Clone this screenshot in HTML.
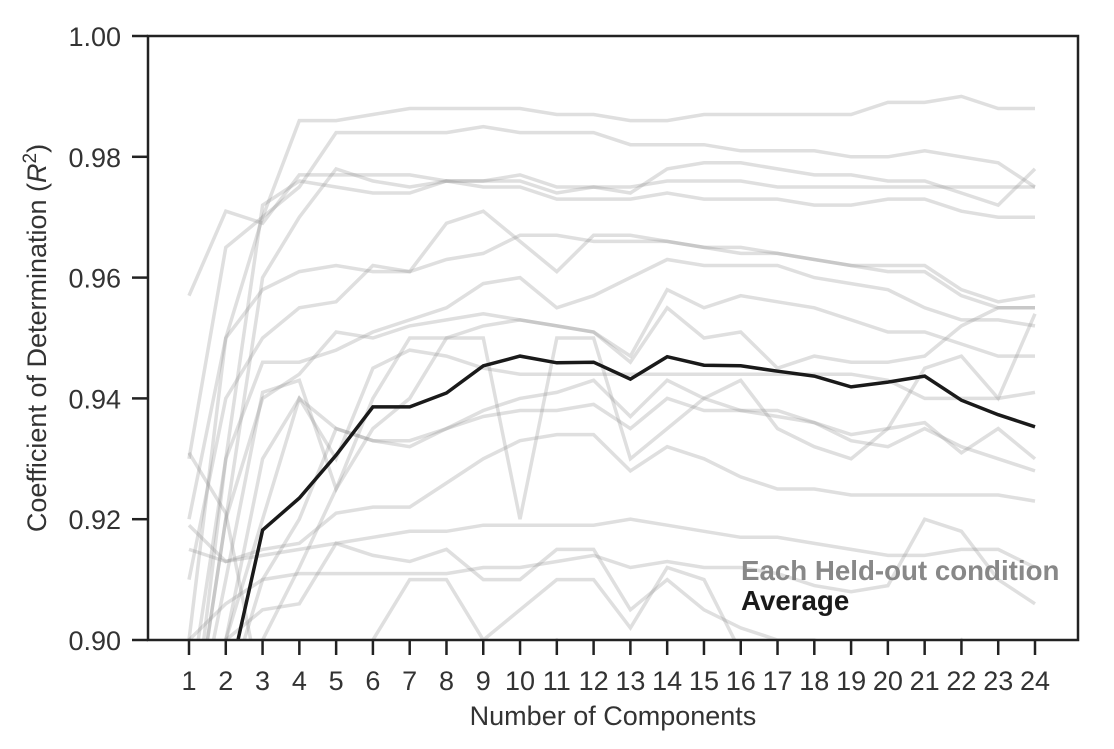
<!DOCTYPE html>
<html><head><meta charset="utf-8"><style>
html,body{margin:0;padding:0;background:#fff;overflow:hidden;width:1114px;height:749px;}
svg{display:block;}
svg text{font-family:"Liberation Sans",Arial,sans-serif;}
</style></head><body>
<svg id="chart" width="1114" height="749" xmlns="http://www.w3.org/2000/svg">
<defs><clipPath id="clip"><rect x="148" y="36" width="930" height="604"/></clipPath></defs>
<g id="grays" clip-path="url(#clip)"></g>
<g id="avg" clip-path="url(#clip)"></g>
<rect x="148" y="36" width="930" height="604" fill="none" stroke="#222" stroke-width="2.5"/>
<g id="yticks"></g>
<g id="xticks"></g>
<text x="613" y="725" font-size="27" fill="#333" text-anchor="middle">Number of Components</text>
<text transform="translate(46,338) rotate(-90)" font-size="27" fill="#333" text-anchor="middle">Coefficient of Determination (<tspan font-style="italic">R</tspan><tspan dy="-10" font-size="19">2</tspan><tspan dy="10">)</tspan></text>
<text x="741" y="580" font-size="27.7" font-weight="bold" fill="#888">Each Held-out condition</text>
<text x="741" y="610" font-size="27.7" font-weight="bold" fill="#1a1a1a">Average</text>
</svg>
<script>
const components = [1,2,3,4,5,6,7,8,9,10,11,12,13,14,15,16,17,18,19,20,21,22,23,24];
const yTicks = [0.90,0.92,0.94,0.96,0.98,1.00];
const yTickLabels = ["0.90","0.92","0.94","0.96","0.98","1.00"];
const averageR2 = [0.882,0.891,0.9182,0.9235,0.9306,0.9386,0.9386,0.9409,0.9454,0.9470,0.9459,0.9460,0.9432,0.9469,0.9455,0.9454,0.9445,0.9437,0.9419,0.9427,0.9437,0.9397,0.9373,0.9353];
const heldOut = [
[0.93,0.965,0.97,0.986,0.986,0.987,0.988,0.988,0.988,0.988,0.987,0.987,0.986,0.986,0.987,0.987,0.987,0.987,0.987,0.989,0.989,0.99,0.988,0.988],
[0.90,0.95,0.97,0.975,0.984,0.984,0.984,0.984,0.985,0.984,0.984,0.984,0.982,0.982,0.982,0.981,0.981,0.981,0.980,0.980,0.981,0.980,0.979,0.975],
[0.957,0.971,0.969,0.977,0.977,0.977,0.977,0.976,0.976,0.977,0.975,0.975,0.975,0.976,0.976,0.976,0.975,0.975,0.975,0.975,0.975,0.975,0.975,0.975],
[0.88,0.93,0.972,0.976,0.975,0.974,0.974,0.976,0.976,0.976,0.974,0.975,0.974,0.978,0.979,0.979,0.978,0.977,0.977,0.976,0.976,0.974,0.972,0.978],
[0.88,0.92,0.96,0.97,0.978,0.976,0.975,0.976,0.975,0.975,0.973,0.973,0.973,0.974,0.973,0.973,0.973,0.972,0.972,0.973,0.973,0.971,0.97,0.97],
[0.92,0.95,0.958,0.961,0.962,0.961,0.961,0.963,0.964,0.967,0.967,0.966,0.966,0.966,0.965,0.965,0.964,0.963,0.962,0.962,0.962,0.958,0.956,0.957],
[0.91,0.94,0.95,0.955,0.956,0.962,0.961,0.969,0.971,0.966,0.961,0.967,0.967,0.966,0.965,0.964,0.964,0.963,0.962,0.961,0.961,0.957,0.955,0.955],
[0.89,0.93,0.946,0.946,0.948,0.951,0.953,0.955,0.959,0.96,0.955,0.957,0.96,0.963,0.962,0.962,0.962,0.96,0.959,0.958,0.955,0.953,0.953,0.952],
[0.88,0.92,0.94,0.944,0.951,0.95,0.952,0.953,0.954,0.953,0.952,0.951,0.947,0.958,0.955,0.957,0.956,0.955,0.953,0.951,0.951,0.949,0.947,0.947],
[0.88,0.91,0.941,0.943,0.925,0.935,0.94,0.95,0.952,0.953,0.952,0.951,0.946,0.955,0.95,0.951,0.945,0.947,0.946,0.946,0.947,0.952,0.955,0.955],
[0.89,0.90,0.93,0.94,0.93,0.945,0.948,0.947,0.945,0.944,0.944,0.944,0.944,0.944,0.944,0.944,0.944,0.944,0.944,0.943,0.94,0.94,0.94,0.941],
[0.88,0.9,0.92,0.94,0.935,0.933,0.933,0.935,0.938,0.94,0.941,0.943,0.937,0.943,0.94,0.938,0.938,0.936,0.933,0.932,0.935,0.932,0.93,0.928],
[0.88,0.89,0.91,0.92,0.935,0.933,0.932,0.935,0.937,0.938,0.938,0.939,0.935,0.94,0.938,0.938,0.937,0.936,0.934,0.935,0.936,0.931,0.935,0.93],
[0.87,0.88,0.9,0.912,0.925,0.94,0.95,0.95,0.95,0.92,0.95,0.95,0.93,0.935,0.94,0.943,0.935,0.932,0.93,0.935,0.945,0.947,0.94,0.954],
[0.919,0.913,0.915,0.916,0.921,0.922,0.922,0.926,0.93,0.933,0.934,0.934,0.928,0.932,0.93,0.927,0.925,0.925,0.924,0.924,0.924,0.924,0.924,0.923],
[0.915,0.913,0.914,0.915,0.916,0.917,0.918,0.918,0.919,0.919,0.919,0.919,0.92,0.919,0.918,0.917,0.917,0.916,0.915,0.914,0.914,0.915,0.915,0.912],
[0.90,0.906,0.91,0.911,0.911,0.911,0.911,0.911,0.912,0.912,0.913,0.914,0.912,0.913,0.912,0.912,0.911,0.909,0.908,0.909,0.92,0.918,0.91,0.906],
[0.88,0.9,0.905,0.906,0.916,0.914,0.913,0.915,0.91,0.91,0.915,0.915,0.905,0.91,0.905,0.902,0.9,0.9,0.898,0.897,0.896,0.9,0.89,0.88],
[0.931,0.921,0.89,0.88,0.88,0.9,0.91,0.91,0.9,0.905,0.91,0.91,0.902,0.912,0.91,0.898,0.89,0.89,0.886,0.886,0.886,0.89,0.888,0.88],
[0.88,0.88,0.88,0.88,0.88,0.88,0.88,0.88,0.88,0.897,0.9,0.895,0.89,0.89,0.88,0.88,0.88,0.88,0.88,0.88,0.88,0.88,0.88,0.88]
];
const NS="http://www.w3.org/2000/svg";
const xScale = c => 189 + (c-1)*(1035-189)/23;
const yScale = v => 640 - (v-0.90)*6040;
function pathFor(vals){return vals.map((v,i)=>(i?'L':'M')+xScale(components[i]).toFixed(1)+','+yScale(v).toFixed(1)).join(' ');}
const g=document.getElementById('grays');
heldOut.forEach((s,k)=>{
  const p=document.createElementNS(NS,'path');
  p.setAttribute('d',pathFor(s));
  p.setAttribute('fill','none');p.setAttribute('stroke','rgba(140,140,140,0.28)');p.setAttribute('stroke-width','3.5');
  
  
  g.appendChild(p);
});
const a=document.createElementNS(NS,'path');
a.setAttribute('d',pathFor(averageR2));
a.setAttribute('fill','none');a.setAttribute('stroke','#1a1a1a');a.setAttribute('stroke-width','3.5');


document.getElementById('avg').appendChild(a);
const yg=document.getElementById('yticks');
yTicks.forEach((t,i)=>{
  const y=yScale(t);
  const l=document.createElementNS(NS,'line');
  l.setAttribute('x1',132);l.setAttribute('x2',148);l.setAttribute('y1',y);l.setAttribute('y2',y);
  l.setAttribute('stroke','#222');l.setAttribute('stroke-width','2.5');
  
  
  yg.appendChild(l);
  const tx=document.createElementNS(NS,'text');
  tx.setAttribute('x',121);tx.setAttribute('y',y+10);tx.setAttribute('text-anchor','end');
  tx.setAttribute('font-size','27');tx.setAttribute('fill','#333');
  tx.textContent=yTickLabels[i];
  
  
  yg.appendChild(tx);
});
const xg=document.getElementById('xticks');
components.forEach(c=>{
  const x=xScale(c);
  const l=document.createElementNS(NS,'line');
  l.setAttribute('x1',x);l.setAttribute('x2',x);l.setAttribute('y1',640);l.setAttribute('y2',655);
  l.setAttribute('stroke','#222');l.setAttribute('stroke-width','2.5');
  
  
  xg.appendChild(l);
  const tx=document.createElementNS(NS,'text');
  tx.setAttribute('x',x);tx.setAttribute('y',690);tx.setAttribute('text-anchor','middle');
  tx.setAttribute('font-size','27');tx.setAttribute('fill','#333');
  tx.textContent=String(c);
  
  
  xg.appendChild(tx);
});
</script>
</body></html>
